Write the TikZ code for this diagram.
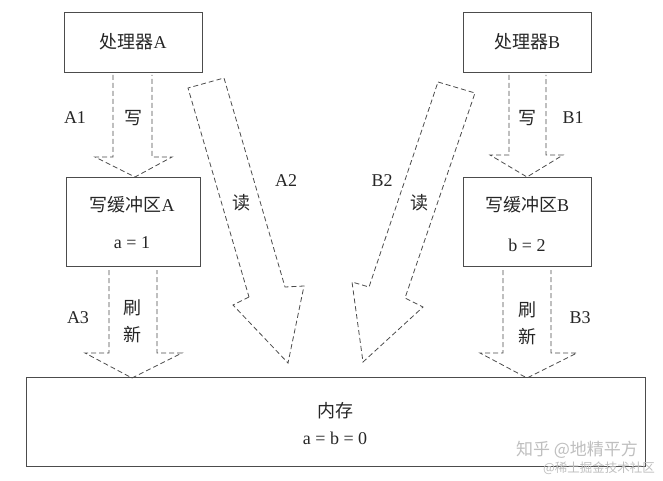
\documentclass[tikz,border=0pt]{standalone}
\usepackage{fontspec}
\setmainfont{Liberation Serif}
\newfontfamily\cjk{Noto Sans CJK SC}
\begin{document}
\begin{tikzpicture}[x=1pt,y=-1pt,
  box/.style={draw=black!70,line width=0.8pt,inner sep=0pt},
  blockarrow/.style={draw=black!70,line width=0.8pt,dash pattern=on 5pt off 3pt,line join=miter},
  lbl/.style={font=\fontsize{18}{21}\selectfont,inner sep=0pt,text=black!85},
  wm/.style={text=black!25,inner sep=0pt}]
\useasboundingbox (0,0) rectangle (663,481);
\fill[white] (0,0) rectangle (663,481);
% boxes
\node[box,minimum width=138pt,minimum height=60pt] (pa) at (133,42) {};
\node[box,minimum width=128pt,minimum height=60pt] (pb) at (527,42) {};
\node[box,minimum width=134pt,minimum height=89pt] (wa) at (133,222) {};
\node[box,minimum width=128pt,minimum height=89pt] (wb) at (527,222) {};
\node[box,minimum width=619pt,minimum height=89pt] (mem) at (335.5,421.5) {};
% box texts
\node[lbl] (tpa) at (pa) {{\cjk 处理器}A};
\node[lbl] (tpb) at (pb) {{\cjk 处理器}B};
\node[lbl] (twa) at (132,205) {{\cjk 写缓冲区}A};
\node[lbl] (twa2) at (132,243) {a = 1};
\node[lbl] (twb) at (527,205) {{\cjk 写缓冲区}B};
\node[lbl] (twb2) at (527,245) {b = 2};
\node[lbl] (tm) at (335,411) {\cjk 内存};
\node[lbl] (tm2) at (335,438) {a = b = 0};
% block arrows
\draw[blockarrow] (113,75) -- (113,157) -- (95,157) -- (135,177) -- (172,157) -- (152,157) -- (152,75);
\draw[blockarrow] (109,270) -- (109,353) -- (85,353) -- (132,378) -- (182,353) -- (157,353) -- (157,270);
\draw[blockarrow] (509,75) -- (509,155) -- (490,155) -- (527,177) -- (563,155) -- (546,155) -- (546,75);
\draw[blockarrow] (503,270) -- (503,353) -- (480,353) -- (527,378) -- (577,353) -- (551,353) -- (551,270);
\draw[blockarrow] (249,297) -- (233,305) -- (288,363) -- (304,286) -- (285,287) -- (224,78) -- (188,88) -- cycle;
\draw[blockarrow] (438,82) -- (475,93) -- (405,298) -- (423,307) -- (363,362) -- (352,282) -- (369,287) -- cycle;
% arrow labels
\node[lbl] (a1) at (75,118) {A1};
\node[lbl] (xa) at (133,118) {\cjk 写};
\node[lbl] (a2) at (286,181) {A2};
\node[lbl] (ra) at (241,203) {\cjk 读};
\node[lbl] (a3) at (78,318) {A3};
\node[lbl] (sa1) at (132,308) {\cjk 刷};
\node[lbl] (sa2) at (132,335) {\cjk 新};
\node[lbl] (xb) at (527,118) {\cjk 写};
\node[lbl] (b1) at (573,118) {B1};
\node[lbl] (b2) at (382,181) {B2};
\node[lbl] (rb) at (419,203) {\cjk 读};
\node[lbl] (sb1) at (527,310) {\cjk 刷};
\node[lbl] (sb2) at (527,337) {\cjk 新};
\node[lbl] (b3) at (580,318) {B3};
% watermark
\node[wm,font=\cjk\fontsize{17}{20}\selectfont] (w1) at (577,450) {知乎 @地精平方};
\node[wm,font=\cjk\fontsize{12.5}{15}\selectfont] (w2) at (599,468) {@稀土掘金技术社区};
\end{tikzpicture}
\end{document}
